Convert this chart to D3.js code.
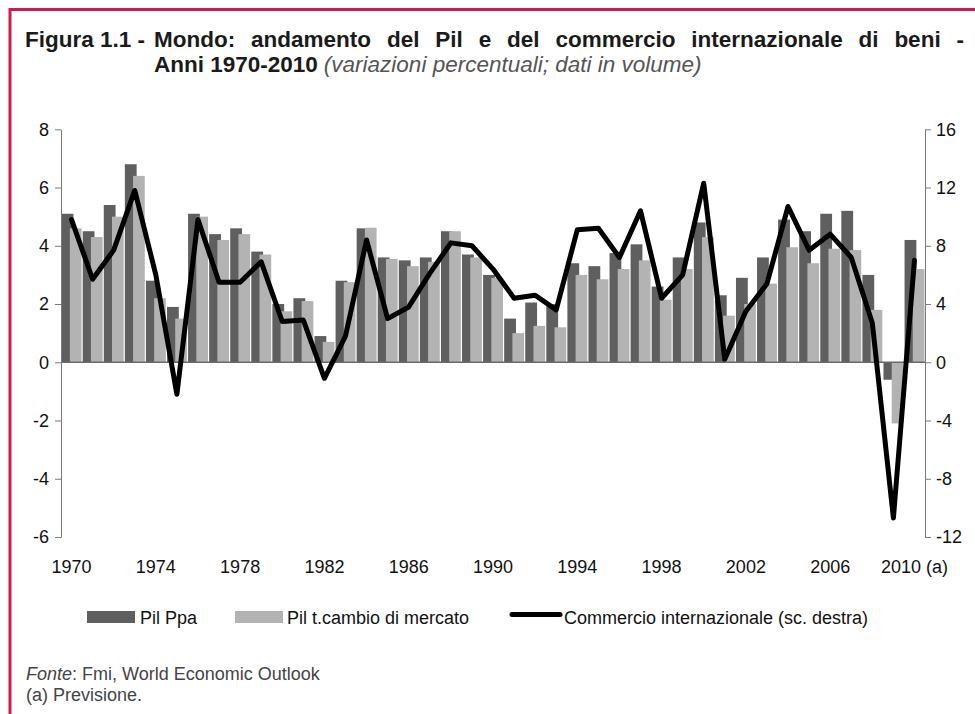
<!DOCTYPE html>
<html><head><meta charset="utf-8">
<script src="https://cdn.jsdelivr.net/npm/d3@7"></script>
<style>
body{margin:0;background:#fff}
svg{display:block}
text{font-family:"Liberation Sans",Arial,Helvetica,sans-serif}
</style>
</head><body>
<svg id="c" width="975" height="714"></svg>
<script>
// ---------- DATA ----------
const years = [1970,1971,1972,1973,1974,1975,1976,1977,1978,1979,
               1980,1981,1982,1983,1984,1985,1986,1987,1988,1989,
               1990,1991,1992,1993,1994,1995,1996,1997,1998,1999,
               2000,2001,2002,2003,2004,2005,2006,2007,2008,2009,2010];
const pilPpa = [5.1,4.5,5.4,6.8,2.8,1.9,5.1,4.4,4.6,3.8,
                2.0,2.2,0.9,2.8,4.6,3.6,3.5,3.6,4.5,3.7,
                3.0,1.5,2.05,2.0,3.4,3.3,3.75,4.05,2.6,3.6,
                4.8,2.3,2.9,3.6,4.9,4.5,5.1,5.2,3.0,-0.6,4.2];
const pilMercato = [4.6,4.3,5.0,6.4,2.2,1.5,5.0,4.2,4.4,3.7,
                    1.75,2.1,0.7,2.75,4.62,3.55,3.3,3.45,4.5,3.6,
                    2.9,1.0,1.25,1.2,3.0,2.85,3.2,3.5,2.15,3.2,
                    4.3,1.6,2.0,2.7,3.95,3.4,3.9,3.85,1.8,-2.1,3.2];
const commercio = [9.8,5.7,7.7,11.8,6.0,-2.2,9.8,5.5,5.5,6.9,
                   2.8,2.9,-1.1,1.8,8.4,3.0,3.8,6.1,8.2,8.0,
                   6.4,4.4,4.6,3.6,9.1,9.2,7.2,10.4,4.4,6.0,
                   12.3,0.2,3.5,5.4,10.7,7.7,8.8,7.2,2.7,-10.7,7.0];
const leftTicks = [-6,-4,-2,0,2,4,6,8];
const rightTicks = [-12,-8,-4,0,4,8,12,16];
const xTickYears = [1970,1974,1978,1982,1986,1990,1994,1998,2002,2006,2010];
const xTickLabels = ["1970","1974","1978","1982","1986","1990","1994","1998","2002","2006","2010 (a)"];
const seriesNames = ["Pil Ppa","Pil t.cambio di mercato","Commercio internazionale (sc. destra)"];
const titleLabel = "Figura 1.1 -";
const titleLine1 = "Mondo: andamento del Pil e del commercio internazionale di beni -";
const titleLine2Bold = "Anni 1970-2010";
const titleLine2Italic = "(variazioni percentuali; dati in volume)";
const sourceItalic = "Fonte";
const sourceRest = ": Fmi, World Economic Outlook";
const noteText = "(a) Previsione.";

// ---------- STYLE ----------
const cDark = "#5f5f5f", cLight = "#b3b3b3", cBorder = "#cf1a4c";
const L = 61, R = 925, T = 129.3, B = 537;

const svg = d3.select("#c");
svg.append("rect").attr("width",975).attr("height",714).attr("fill","#fff");

// border (top + left)
svg.append("path").attr("d","M10,714V9.5H975")
  .attr("fill","none").attr("stroke",cBorder).attr("stroke-width",3);

// scales
const x = d3.scaleBand().domain(years).range([L,R]).padding(0);
const s = x.bandwidth();
const yL = d3.scaleLinear().domain([-6,8]).range([B,T]);
const yR = d3.scaleLinear().domain([-12,16]).range([B,T]);

// bars
const g = svg.append("g");
g.selectAll("rect.d").data(years).join("rect").attr("class","d")
  .attr("x",(d)=>x(d)+0.03*s).attr("width",0.56*s)
  .attr("y",(d,i)=>yL(Math.max(0,pilPpa[i])))
  .attr("height",(d,i)=>Math.abs(yL(pilPpa[i])-yL(0)))
  .attr("fill",cDark);
g.selectAll("rect.l").data(years).join("rect").attr("class","l")
  .attr("x",(d)=>x(d)+0.42*s).attr("width",0.555*s)
  .attr("y",(d,i)=>yL(Math.max(0,pilMercato[i])))
  .attr("height",(d,i)=>Math.abs(yL(pilMercato[i])-yL(0)))
  .attr("fill",cLight);

// zero line
svg.append("line").attr("x1",L).attr("x2",R).attr("y1",yL(0)).attr("y2",yL(0))
  .attr("stroke","#6a6a6a").attr("stroke-width",1.5);

// trade line
const line = d3.line().x((d,i)=>x(years[i])+s/2).y(d=>yR(d));
svg.append("path").datum(commercio).attr("d",line)
  .attr("fill","none").attr("stroke","#000").attr("stroke-width",5)
  .attr("stroke-linejoin","round").attr("stroke-linecap","round");

// axes
function styleAxis(sel){
  sel.selectAll("path.domain").attr("stroke","#7a7a7a").attr("stroke-width",1);
  sel.selectAll(".tick line").attr("stroke","#7a7a7a");
  sel.selectAll("text").attr("font-size",18).attr("fill","#111")
    .style("font-family",'"Liberation Sans",Arial,sans-serif');
}
const axL = svg.append("g").attr("transform",`translate(${L},0)`)
  .call(d3.axisLeft(yL).tickValues(leftTicks).tickSize(6).tickSizeOuter(0).tickPadding(6).tickFormat(d3.format("d")));
styleAxis(axL);
const axR = svg.append("g").attr("transform",`translate(${R},0)`)
  .call(d3.axisRight(yR).tickValues(rightTicks).tickSize(6).tickSizeOuter(0).tickPadding(5).tickFormat(d3.format("d")));
styleAxis(axR);
const axB = svg.append("g").attr("transform",`translate(0,${B})`)
  .call(d3.axisBottom(x).tickValues(xTickYears).tickSize(0).tickPadding(23)
    .tickFormat(d=>xTickLabels[xTickYears.indexOf(d)]));
axB.select("path.domain").remove();
styleAxis(axB);
axL.selectAll("text").text(d=>String(d));
axR.selectAll("text").text(d=>String(d));

// legend
const lg = svg.append("g");
lg.append("rect").attr("x",87).attr("y",611).attr("width",48).attr("height",12).attr("fill",cDark);
lg.append("text").attr("x",140).attr("y",623.5).attr("font-size",18).attr("fill","#111").text(seriesNames[0]);
lg.append("rect").attr("x",235).attr("y",611).attr("width",48).attr("height",12).attr("fill",cLight);
lg.append("text").attr("x",287).attr("y",623.5).attr("font-size",18).attr("fill","#111").text(seriesNames[1]);
lg.append("line").attr("x1",512).attr("x2",560).attr("y1",614.5).attr("y2",614.5)
  .attr("stroke","#000").attr("stroke-width",5).attr("stroke-linecap","round");
lg.append("text").attr("x",564).attr("y",623.5).attr("font-size",18).attr("fill","#111").text(seriesNames[2]);

// title
const tf = 22.5;
svg.append("text").attr("x",25).attr("y",47).attr("font-size",tf).attr("font-weight","bold")
  .attr("fill","#1a1a1a").text(titleLabel);
const words = titleLine1.split(" ");
const tx0 = 154, tx1 = 964;
const wEls = words.map(w=>svg.append("text").attr("y",47).attr("font-size",tf)
  .attr("font-weight","bold").attr("fill","#1a1a1a").text(w));
const widths = wEls.map(e=>e.node().getComputedTextLength());
const gap = (tx1 - tx0 - d3.sum(widths)) / (words.length-1);
let cx = tx0;
wEls.forEach((e,i)=>{ e.attr("x",cx); cx += widths[i] + gap; });
const t2 = svg.append("text").attr("x",tx0).attr("y",72).attr("font-size",tf).attr("fill","#1a1a1a");
t2.append("tspan").attr("font-weight","bold").text(titleLine2Bold);
t2.append("tspan").attr("font-style","italic").attr("fill","#555").attr("dx",6).text(titleLine2Italic);

// footer
const f1 = svg.append("text").attr("x",26).attr("y",680).attr("font-size",18).attr("fill","#444");
f1.append("tspan").attr("font-style","italic").text(sourceItalic);
f1.append("tspan").text(sourceRest);
svg.append("text").attr("x",26).attr("y",701).attr("font-size",18).attr("fill","#444").text(noteText);
</script>
</body></html>
